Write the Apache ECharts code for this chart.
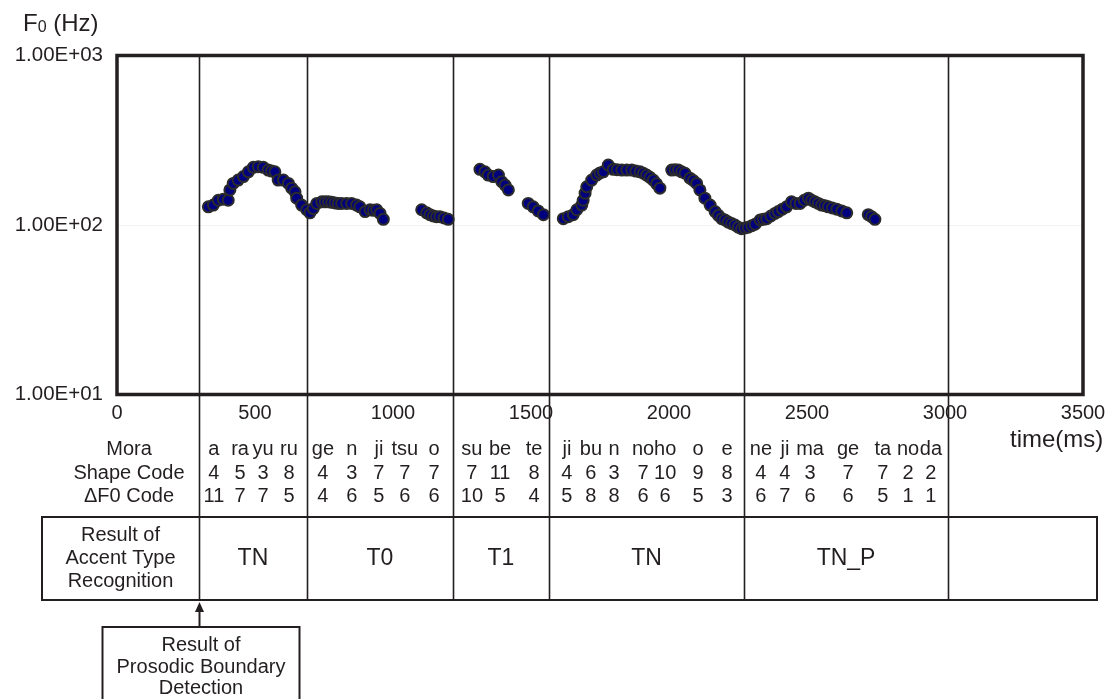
<!DOCTYPE html>
<html>
<head>
<meta charset="utf-8">
<script src="https://cdn.jsdelivr.net/npm/echarts@6/dist/echarts.min.js"></script>
<style>
  html, body { margin: 0; padding: 0; background: #fff; }
  #chart { width: 1109px; height: 699px; }
</style>
</head>
<body>
<div id="chart"></div>
<script>
// F0 contour samples: time (ms) and fundamental frequency (Hz)
const f0Time = [
  331, 349, 367, 385, 403, 409, 421, 439, 458, 476, 494, 512, 530, 548, 560, 572, 584, 603, 621, 633, 645, 651, 669, 687, 699,
  711, 724, 742, 754, 766, 778, 790, 802, 814, 832, 850, 868, 880, 899, 917, 929, 941, 953, 965,
  1104, 1122, 1134, 1146, 1158, 1170, 1185, 1200,
  1315, 1333, 1345, 1363, 1382, 1394, 1406, 1418,
  1490, 1508, 1526, 1545,
  1617, 1635, 1653, 1666, 1684, 1689, 1696, 1702, 1720, 1738, 1750, 1762, 1780, 1798, 1812, 1829, 1847, 1865, 1880, 1895, 1907, 1919, 1931, 1943, 1955, 1967,
  2010, 2022, 2034, 2046, 2058, 2076, 2088, 2100, 2112, 2130, 2149, 2167, 2179, 2191, 2203, 2215, 2227, 2239, 2251, 2263, 2275, 2287, 2300, 2312, 2330, 2342, 2354, 2369, 2384,
  2396, 2411, 2426, 2444, 2460, 2475, 2490, 2505, 2517, 2529, 2541, 2553, 2565, 2577, 2592, 2608, 2626, 2644,
  2722, 2734, 2746
];
const f0Hz = [
  128, 131, 140, 142, 140, 161, 176, 184, 193, 206, 219, 221, 219, 211, 208, 206, 184, 184, 176, 165, 157, 144, 131, 123, 118,
  125, 134, 137, 137, 137, 136, 135, 134, 134, 134, 134, 131, 128, 120, 123, 122, 123, 117, 108,
  123, 118, 115, 113, 112, 112, 110, 108,
  213, 206, 197, 193, 197, 180, 172, 161,
  134, 128, 121, 115,
  109, 112, 115, 123, 131, 140, 154, 168, 184, 197, 203, 206, 226, 213, 212, 211, 211, 211, 208, 206, 202, 197, 191, 184, 175, 165,
  211, 212, 211, 206, 202, 189, 183, 176, 161, 144, 131, 120, 114, 109, 107, 104, 102, 100, 97, 95, 96, 97, 99, 101, 107, 108, 109, 113, 117,
  120, 124, 128, 137, 134, 134, 140, 144, 140, 137, 134, 131, 130, 128, 126, 124, 121, 118,
  115, 112, 108
];

// Axis tick labels
const yTickLabels = ['1.00E+01', '1.00E+02', '1.00E+03'];

// Accent phrase boundaries (ms)
const boundaryTimes = [297, 688, 1217, 1565, 2272, 3011];
const accentTypes = ['TN', 'T0', 'T1', 'TN', 'TN_P'];

// Mora transcription with codes, placed at the time of each mora (ms)
const moraTime = [351, 446, 529, 623, 746, 851, 949, 1043, 1149, 1286, 1388, 1511,
  1630, 1717, 1801, 1906, 1986, 2105, 2210, 2333, 2420, 2511, 2649, 2775, 2866, 2949];
const moraText = ['a', 'ra', 'yu', 'ru', 'ge', 'n', 'ji', 'tsu', 'o', 'su', 'be', 'te',
  'ji', 'bu', 'n', 'no', 'ho', 'o', 'e', 'ne', 'ji', 'ma', 'ge', 'ta', 'no', 'da'];
const shapeCode = ['4', '5', '3', '8', '4', '3', '7', '7', '7', '7', '11', '8',
  '4', '6', '3', '7', '10', '9', '8', '4', '4', '3', '7', '7', '2', '2'];
const deltaF0Code = ['11', '7', '7', '5', '4', '6', '5', '6', '6', '10', '5', '4',
  '5', '8', '8', '6', '6', '5', '3', '6', '7', '6', '6', '5', '1', '1'];

const INK = '#231f20';
const FONT = '"Liberation Sans", Arial, Helvetica, sans-serif';

const chart = echarts.init(document.getElementById('chart'), null, { renderer: 'canvas' });

chart.setOption({
  animation: false,
  backgroundColor: '#fff',
  grid: { left: 117, right: 26, top: 55.5, bottom: 304.5, show: false },
  xAxis: {
    type: 'value', min: 0, max: 3500, interval: 500,
    axisLine: { show: false }, axisTick: { show: false }, splitLine: { show: false },
    axisLabel: { fontSize: 20, color: INK, fontFamily: FONT, margin: 9, formatter: v => String(v) }
  },
  yAxis: {
    type: 'log', logBase: 10, min: 10, max: 1000,
    axisLine: { show: false }, axisTick: { show: false },
    splitLine: { show: true, lineStyle: { color: '#f3f3f3', width: 1 } },
    axisLabel: {
      fontSize: 20.5, color: INK, fontFamily: FONT, margin: 14,
      formatter: v => yTickLabels[Math.round(Math.log10(v)) - 1]
    }
  },
  series: [{
    type: 'scatter', z: 5,
    symbol: 'circle', symbolSize: 11,
    itemStyle: { color: '#00007f', borderColor: '#2b2b2b', borderWidth: 2, opacity: 1 },
    data: f0Time.map((t, i) => [t, f0Hz[i]])
  }]
});

const xPx = t => chart.convertToPixel({ xAxisIndex: 0 }, t);
const yPx = v => chart.convertToPixel({ yAxisIndex: 0 }, v);

// Layout of the annotation table under the plot
const plotTop = yPx(1000);
const plotBottom = yPx(10);
const plotLeft = xPx(0);
const plotRight = xPx(3500);
const rowY = { mora: 449, shape: 473, delta: 496 };
const box = { left: 42, right: 1097, top: 517, bottom: 600 };
const rowLabelX = 129;

function txt(text, x, y, size, align) {
  return {
    type: 'text', z: 10,
    style: {
      text: text, x: x, y: y, fill: INK,
      font: size + 'px ' + FONT,
      align: align || 'center', textAlign: align || 'center',
      verticalAlign: 'middle', textVerticalAlign: 'middle'
    }
  };
}

const g = [];

// Heavy plot frame
g.push({ type: 'rect', z: 20,
  shape: { x: plotLeft, y: plotTop, width: plotRight - plotLeft, height: plotBottom - plotTop },
  style: { fill: 'none', stroke: INK, lineWidth: 3.5 } });

// Phrase boundary lines running from the plot top down through the table
boundaryTimes.forEach(t => {
  const x = Math.round(xPx(t)) + 0.5;
  g.push({ type: 'line', z: 1, shape: { x1: x, y1: plotTop, x2: x, y2: box.bottom },
    style: { stroke: INK, lineWidth: 1.6 } });
});

// Accent type recognition box
g.push({ type: 'rect', z: 1,
  shape: { x: box.left, y: box.top, width: box.right - box.left, height: box.bottom - box.top },
  style: { fill: 'none', stroke: INK, lineWidth: 2 } });

// Row headings
g.push(txt('Mora', rowLabelX, rowY.mora, 20));
g.push(txt('Shape Code', rowLabelX, rowY.shape, 20));
g.push(txt('ΔF0 Code', rowLabelX, rowY.delta, 20));

// Mora / code rows
moraTime.forEach((t, i) => {
  const x = xPx(t);
  g.push(txt(moraText[i], x, rowY.mora, 20));
  g.push(txt(shapeCode[i], x, rowY.shape, 20));
  g.push(txt(deltaF0Code[i], x, rowY.delta, 20));
});

// Accent type heading and recognised types
const boxMid = (box.top + box.bottom) / 2;
g.push({ type: 'text', z: 10, style: {
  text: 'Result of\nAccent Type\nRecognition', x: (box.left + xPx(boundaryTimes[0])) / 2, y: boxMid,
  fill: INK, font: '20px ' + FONT, lineHeight: 23,
  align: 'center', textAlign: 'center', verticalAlign: 'middle', textVerticalAlign: 'middle' } });
accentTypes.forEach((a, i) => {
  const x = (xPx(boundaryTimes[i]) + xPx(boundaryTimes[i + 1])) / 2;
  g.push(txt(a, x, boxMid, 23));
});

// Prosodic boundary detection call-out with arrow
const ax = Math.round(xPx(boundaryTimes[0])) + 0.5;
const calloutTop = 627;
g.push({ type: 'line', z: 1, shape: { x1: ax, y1: calloutTop, x2: ax, y2: box.bottom + 9 },
  style: { stroke: INK, lineWidth: 2 } });
g.push({ type: 'polygon', z: 1,
  shape: { points: [[ax - 4.5, box.bottom + 12], [ax + 4.5, box.bottom + 12], [ax, box.bottom + 2]] },
  style: { fill: INK } });
g.push({ type: 'rect', z: 1,
  shape: { x: ax - 97, y: calloutTop, width: 197, height: 90 },
  style: { fill: 'none', stroke: INK, lineWidth: 2 } });
g.push({ type: 'text', z: 10, style: {
  text: 'Result of\nProsodic Boundary\nDetection', x: ax + 1.5, y: calloutTop + 8,
  fill: INK, font: '20px ' + FONT, lineHeight: 21.5,
  align: 'center', textAlign: 'center', verticalAlign: 'top', textVerticalAlign: 'top' } });

// Axis titles
g.push({ type: 'text', z: 10, style: {
  text: '{a|F}{b|0}{a| (Hz)}', x: 23, y: 22,
  align: 'left', textAlign: 'left', verticalAlign: 'middle', textVerticalAlign: 'middle',
  rich: {
    a: { fontSize: 24, fontFamily: FONT, fill: INK, color: INK, lineHeight: 28, verticalAlign: 'bottom' },
    b: { fontSize: 16, fontFamily: FONT, fill: INK, color: INK, lineHeight: 28, verticalAlign: 'bottom' }
  } } });
g.push(txt('time(ms)', 1010, 440, 24, 'left'));

chart.setOption({ graphic: g });
</script>
</body>
</html>
